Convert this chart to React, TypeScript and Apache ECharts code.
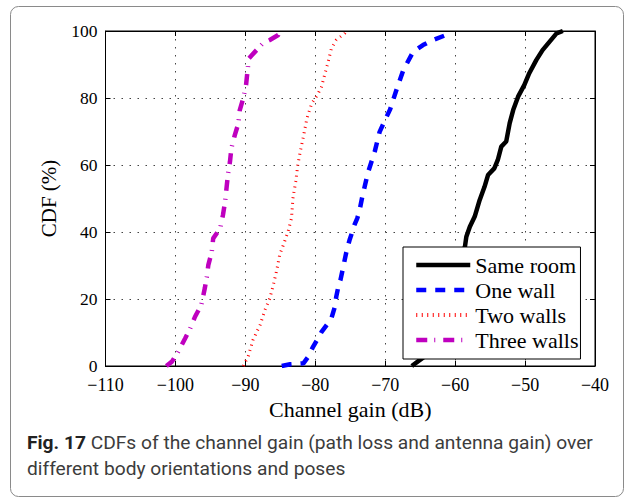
import React, { useEffect, useRef } from "react";
import * as echarts from "echarts";

// Channel gain (dB) and CDF (%) samples for each propagation case
const sameRoomGain = [-66.2, -64.4, -63.5, -62.5, -61.5, -60.8, -60.0, -59.0, -58.6, -58.4, -57.9, -57.2, -56.5, -55.8, -55.3, -54.4, -53.9, -53.4, -52.7, -52.2, -51.7, -51.0, -50.1, -49.4, -48.4, -47.5, -45.5, -44.6];
const sameRoomCdf = [0, 2.8, 6, 12, 18, 24, 30, 34, 35.6, 38.6, 41.6, 44.6, 49.5, 53.5, 57.0, 59.0, 61.5, 65.5, 67.0, 72.5, 76.4, 80.4, 83.9, 87.4, 91.3, 94.3, 99.3, 100];

const oneWallGain = [-84.8, -83.6, -81.7, -81.0, -80.3, -79.6, -79.1, -78.2, -77.7, -77.2, -77.0, -76.7, -76.4, -76.0, -75.6, -75.3, -75.1, -74.7, -74.4, -74.0, -73.7, -73.3, -72.5, -71.5, -70.8, -69.8, -69.3, -68.4, -67.4, -66.0, -64.6, -63.2, -61.3, -60.6];
const oneWallCdf = [0, 0.5, 0.8, 2.8, 5.8, 8.3, 10.2, 12.7, 14.2, 17.7, 20.7, 23.7, 25.7, 29.6, 33.6, 36.1, 37.6, 40.1, 42.1, 44.1, 46.1, 50.3, 57.5, 64.0, 69.9, 74.4, 76.6, 82.4, 88.4, 93.8, 95.8, 97.3, 98.8, 100];

const twoWallsGain = [-90.3, -89.6, -88.9, -87.9, -87.2, -86.5, -86.0, -85.5, -85.1, -84.4, -83.9, -83.4, -83.2, -82.8, -82.5, -82.1, -81.6, -81.2, -80.5, -79.7, -79.1, -78.6, -78.2, -77.7, -77.0, -75.8, -75.6];
const twoWallsCdf = [0, 2.8, 7.8, 12.2, 16.7, 20.2, 24.2, 28.7, 33.1, 37.1, 40.1, 44.1, 50.0, 55.0, 60.0, 64.5, 69.5, 73.9, 78.4, 80.9, 83.4, 87.4, 90.4, 94.8, 97.3, 99.3, 100];

const threeWallsGain = [-101.3, -100.5, -99.6, -98.6, -97.9, -97.2, -96.3, -95.8, -95.5, -95.3, -94.8, -94.6, -93.6, -93.2, -92.9, -92.7, -92.5, -92.2, -92.0, -91.5, -91.0, -90.8, -90.3, -89.9, -89.7, -89.5, -88.4, -87.5, -86.5, -85.3, -85.1];
const threeWallsCdf = [0, 1.3, 4.3, 8.3, 11.2, 14.7, 18.2, 23.2, 26.7, 30.1, 34.1, 38.1, 41.1, 45.1, 49.0, 53.0, 57.0, 61.0, 65.0, 69.0, 72.4, 76.4, 79.9, 83.9, 87.9, 91.8, 94.3, 96.3, 97.3, 98.8, 100];

const seriesNames = ["Same room", "One wall", "Two walls", "Three walls"];

const SERIF = "'Liberation Serif', 'DejaVu Serif', serif";
const SANS = "Roboto, 'Noto Sans', sans-serif";

const zip = (xs: number[], ys: number[]) => xs.map((x, i) => [x, ys[i]]);
const minusSign = (v: number) => String(v).replace("-", "\u2212");

export default function App() {
  const ref = useRef<HTMLDivElement>(null);

  useEffect(() => {
    if (!ref.current) return;
    const chart = echarts.init(ref.current, undefined, { renderer: "svg" });

    const gridLine = { show: true, lineStyle: { color: "#444", width: 1, type: [1.5, 6.5] as number[] } };
    const tickStyle = { show: true, inside: true, length: 5, lineStyle: { color: "#000", width: 1 } };

    const styles = [
      { color: "#000000", width: 4.5, type: "solid" as any, legendWidth: 4.5 },
      { color: "#0000ff", width: 4.5, type: [10, 9], legendWidth: 4.5 },
      { color: "#ff0000", width: 3, type: [1, 4.5], legendWidth: 4 },
      { color: "#bf00bf", width: 4.5, type: [11, 7, 1, 8], legendWidth: 4.5 },
    ];
    const dataSets = [
      zip(sameRoomGain, sameRoomCdf),
      zip(oneWallGain, oneWallCdf),
      zip(twoWallsGain, twoWallsCdf),
      zip(threeWallsGain, threeWallsCdf),
    ];

    chart.setOption({
      animation: false,
      backgroundColor: "#fff",
      grid: {
        left: 105.5,
        right: 40,
        top: 31,
        bottom: 135,
        show: true,
        borderColor: "#000",
        borderWidth: 1,
        backgroundColor: "#fff",
      },
      xAxis: [
        {
          type: "value",
          min: -110,
          max: -40,
          interval: 10,
          name: "Channel gain (dB)",
          nameLocation: "middle",
          nameGap: 30,
          nameTextStyle: { color: "#000", fontFamily: SERIF, fontSize: 22 },
          axisLine: { show: true, onZero: false, lineStyle: { color: "#000", width: 1 } },
          axisTick: tickStyle,
          axisLabel: { color: "#000", fontFamily: SERIF, fontSize: 18, margin: 10, formatter: minusSign },
          splitLine: gridLine,
        },
        {
          type: "value",
          position: "top",
          min: -110,
          max: -40,
          interval: 10,
          axisLine: { show: true, onZero: false, lineStyle: { color: "#000", width: 1 } },
          axisTick: tickStyle,
          axisLabel: { show: false },
          splitLine: { show: false },
        },
      ],
      yAxis: [
        {
          type: "value",
          min: 0,
          max: 100,
          interval: 20,
          name: "CDF (%)",
          nameLocation: "middle",
          nameGap: 46,
          nameTextStyle: { color: "#000", fontFamily: SERIF, fontSize: 21 },
          axisLine: { show: true, onZero: false, lineStyle: { color: "#000", width: 1 } },
          axisTick: tickStyle,
          axisLabel: { color: "#000", fontFamily: SERIF, fontSize: 17.5, margin: 8 },
          splitLine: gridLine,
        },
        {
          type: "value",
          position: "right",
          min: 0,
          max: 100,
          interval: 20,
          axisLine: { show: true, onZero: false, lineStyle: { color: "#000", width: 1 } },
          axisTick: tickStyle,
          axisLabel: { show: false },
          splitLine: { show: false },
        },
      ],
      legend: {
        z: 20,
        orient: "vertical",
        left: 403,
        top: 247,
        padding: [7, 2, 8, 11],
        itemWidth: 54,
        itemHeight: 14,
        itemGap: 3,
        backgroundColor: "#fff",
        borderColor: "#000",
        borderWidth: 1,
        borderRadius: 0,
        textStyle: { color: "#000", fontFamily: SERIF, fontSize: 22 },
        itemStyle: { opacity: 0 },
        data: seriesNames.map((name, i) => ({
          name,
          lineStyle: { width: styles[i].legendWidth, color: styles[i].color },
        })),
      },
      series: seriesNames.map((name, i) => ({
        name,
        type: "line",
        data: dataSets[i],
        symbol: "none",
        showSymbol: false,
        z: 2,
        lineStyle: { color: styles[i].color, width: styles[i].width, type: styles[i].type },
        itemStyle: { color: styles[i].color },
      })),
      graphic: [
        {
          type: "rect",
          z: -10,
          silent: true,
          shape: { x: 10.5, y: 6.5, width: 613, height: 490, r: 8 },
          style: { fill: "none", stroke: "#8a8a8a", lineWidth: 1 },
        },
        {
          type: "text",
          left: 27,
          top: 429,
          style: {
            text: "{b|Fig. 17} CDFs of the channel gain (path loss and antenna gain) over\ndifferent body orientations and poses",
            fontFamily: SANS,
            fontSize: 19.2,
            lineHeight: 26,
            fill: "#3c3c3c",
            rich: {
              b: { fontFamily: SANS, fontSize: 19.2, fontWeight: "bold", fill: "#222", lineHeight: 26 },
            },
          },
        },
      ],
    });

    return () => chart.dispose();
  }, []);

  return (
    <div
      ref={ref}
      style={{ position: "absolute", left: 0, top: 0, width: 635, height: 501 }}
    />
  );
}
